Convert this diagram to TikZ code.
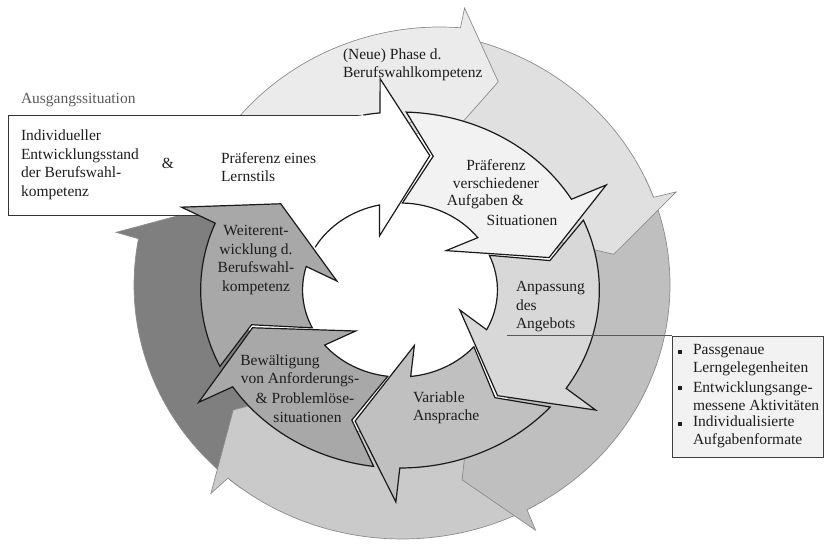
\documentclass[tikz,border=0pt]{standalone}
\usepackage{fontspec}
\setmainfont{Liberation Serif}
\definecolor{tc}{HTML}{1E1E1E}
\definecolor{gtc}{HTML}{595959}
\definecolor{ol}{HTML}{8C8C8C}
\definecolor{il}{HTML}{1A1A1A}
\definecolor{oA}{HTML}{EBEBEB}
\definecolor{oB}{HTML}{E0E0E0}
\definecolor{oC}{HTML}{BFBFBF}
\definecolor{oD}{HTML}{CACACA}
\definecolor{oE}{HTML}{7F7F7F}
\definecolor{sA}{HTML}{F2F2F2}
\definecolor{sB}{HTML}{D8D8D8}
\definecolor{sC}{HTML}{C0C0C0}
\definecolor{sD}{HTML}{A8A8A8}
\definecolor{sE}{HTML}{A8A8A8}
\definecolor{rbfill}{HTML}{F2F2F2}
% outer block arc: #1 fill, #2 tail angle, #3 tip angle
\newcommand\myOutSeg[3]{\path[oseg, fill=#1] (#2:\RgOut) arc[start angle=#2, end angle={#3+11.5}, radius=\RgOut] -- ({#3+11}:\RgOw) -- (#3:\RgMid) -- ({#3+14}:\RgIw) -- ({#3+13}:\RgIn) arc[start angle={#3+13}, end angle=#2, radius=\RgIn] -- cycle;}
% inner segment path: #1 prev tip, #2 tip
\newcommand\myInPath[2]{({#1-\RgGap}:137) -- ({#1+10.7-\RgGap}:178) arc[start angle={#1+10.7-\RgGap}, end angle={#2+16.95}, radius=178] -- ({#2+16}:212) -- (#2:137) -- ({#2+30}:57) -- ({#2+23.3}:87) arc[start angle={#2+23.3}, end angle={#1+11.1-\RgGap}, radius=87] -- cycle}
\newcommand\myInSeg[3]{\path[iseg, fill=#1] \myInPath{#2}{#3};}
\def\RgGap{1.3}
\begin{document}
\begin{tikzpicture}[x=1pt,y=1pt,
  txt/.style={font=\fontsize{15.5}{18.5}\selectfont, text=tc, inner sep=0pt, outer sep=0pt},
  oseg/.style={draw=ol, line width=0.7pt},
  iseg/.style={draw=il, line width=1.2pt, miter limit=20},
  boxline/.style={draw=black!80, line width=0.9pt},
  bul/.style={fill=tc, minimum size=4.2pt, inner sep=0pt, outer sep=0pt},
]
\useasboundingbox (0,0) rectangle (825,544);

% ---------- outer ring ----------
\begin{scope}[shift={(402,259)}, xscale=1.055]
  \def\RgOut{254}\def\RgIn{152}\def\RgMid{203}\def\RgOw{276}\def\RgIw{130}
  \myOutSeg{oE}{-127}{-202}
  \myOutSeg{oD}{-60}{-142}
  \myOutSeg{oC}{25}{-73.7}
  \myOutSeg{oB}{88}{8.7}
\end{scope}
\begin{scope}[shift={(440,269)}, xscale=1.052]
  \def\RgOut{248}\def\RgIn{155}\def\RgMid{201}\def\RgOw{268}\def\RgIw{133}
  \myOutSeg{oA}{162}{74}
\end{scope}

% ---------- start box ----------
\fill[white] (8,329) rectangle (363,429);
\draw[boxline] (363,429) -- (8,429) -- (8,329) -- (290,329);

% ---------- inner ring ----------
\begin{scope}[shift={(400,254)}, xscale=1.12]
  \path[fill=white] \myInPath{141}{78.8};
  \draw[iseg] (100.6:178) arc[start angle=100.6, end angle=95.75, radius=178] -- (94.8:212) -- (78.8:137) -- (108.8:57) -- (102.1:87) arc[start angle=102.1, end angle=150.6, radius=87];
  \myInSeg{sA}{78.8}{13.7}
  \myInSeg{sB}{13.7}{-50.5}
  \myInSeg{sC}{-50.5}{-107}
  \myInSeg{sD}{-107}{-164}
  \myInSeg{sE}{-164}{-219}
\end{scope}

% ---------- texts ----------
\node[txt, text=gtc, anchor=west] (ausg) at (21,444) {Ausgangssituation};
\node[txt, anchor=west, align=left] (stand) at (21,379) {Individueller\\Entwicklungsstand\\der Berufswahl-\\kompetenz};
\node[txt] (amp) at (168,381) {\&};
\node[txt, anchor=west, align=left] (lern) at (221,377) {Präferenz eines\\Lernstils};
\node[txt, anchor=west, align=left] (phase) at (343,479) {(Neue) Phase d.\\Berufswahlkompetenz};
\node[txt] (pa) at (496,379) {Präferenz};
\node[txt] (pb) at (496,361) {verschiedener};
\node[txt] (pc) at (485.5,342) {Aufgaben \&};
\node[txt] (pd) at (522,324) {Situationen};
\node[txt, anchor=west, align=left] (anp) at (516,237) {Anpassung\\des\\Angebots};
\node[txt, anchor=west, align=left] (var) at (413,136) {Variable\\Ansprache};
\node[txt] (ba) at (280,182) {Bewältigung};
\node[txt] (bb) at (300,164) {von Anforderungs-};
\node[txt] (bc) at (305,146) {\& Problemlöse-};
\node[txt] (bd) at (307.5,127) {situationen};
\node[txt, align=center] (weit) at (256,284) {Weiterent-\\wicklung d.\\Berufswahl-\\kompetenz};

% ---------- right callout ----------
\coordinate (cl) at (507,208);
\node[draw=black!75, line width=0.9pt, fill=rbfill, minimum width=151pt, minimum height=121pt, inner sep=0pt, outer sep=0pt, anchor=north west] (rb) at (672,208) {};
\draw[draw=black!65, line width=1pt] (cl) -- (rb.north west);
\node[bul] (b1) at (680,192) {};
\node[bul] (b2) at (680,156) {};
\node[bul] (b3) at (680,120) {};
\node[txt, anchor=west, align=left] (r1) at (693,184) {Passgenaue\\Lerngelegenheiten};
\node[txt, anchor=west, align=left] (r2) at (693,148) {Entwicklungsange-\\messene Aktivitäten};
\node[txt, anchor=west, align=left] (r3) at (693,112) {Individualisierte\\Aufgabenformate};
\end{tikzpicture}
\end{document}
